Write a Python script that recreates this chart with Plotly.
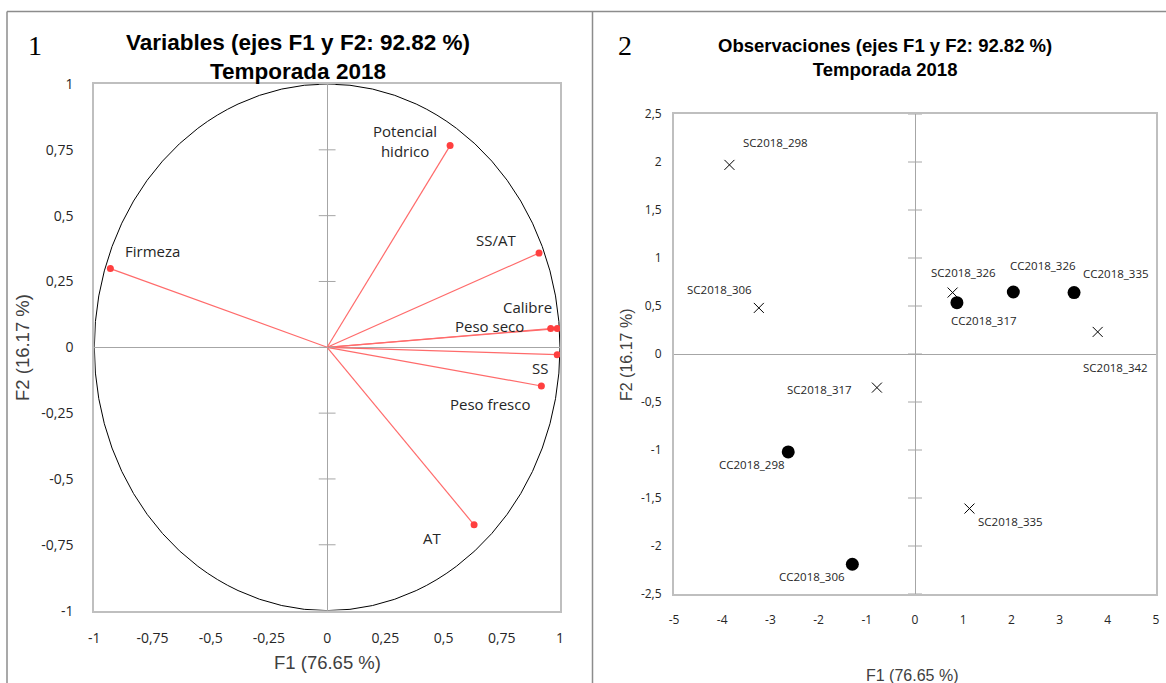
import plotly.graph_objects as go

# ---------------- data ----------------
var_names = ["Firmeza", "Potencial<br>hidrico", "SS/AT", "Calibre", "Peso seco", "SS", "Peso fresco", "AT"]
var_f1 = [-0.931, 0.528, 0.910, 0.988, 0.960, 0.988, 0.920, 0.631]
var_f2 = [0.299, 0.766, 0.358, 0.071, 0.071, -0.028, -0.147, -0.674]

obs_sc_names = ["SC2018_298", "SC2018_306", "SC2018_317", "SC2018_326", "SC2018_335", "SC2018_342"]
obs_sc_f1 = [-3.85, -3.24, -0.79, 0.78, 1.13, 3.79]
obs_sc_f2 = [1.97, 0.48, -0.35, 0.64, -1.61, 0.23]

obs_cc_names = ["CC2018_298", "CC2018_306", "CC2018_317", "CC2018_326", "CC2018_335"]
obs_cc_f1 = [-2.63, -1.30, 0.87, 2.04, 3.30]
obs_cc_f2 = [-1.02, -2.19, 0.535, 0.646, 0.64]

left_ticks = [-1, -0.75, -0.5, -0.25, 0, 0.25, 0.5, 0.75, 1]
left_ticktext = ["-1", "-0,75", "-0,5", "-0,25", "0", "0,25", "0,5", "0,75", "1"]
right_xticks = [-5, -4, -3, -2, -1, 0, 1, 2, 3, 4, 5]
right_xticktext = ["-5", "-4", "-3", "-2", "-1", "0", "1", "2", "3", "4", "5"]
right_yticks = [-2.5, -2, -1.5, -1, -0.5, 0, 0.5, 1, 1.5, 2, 2.5]
right_yticktext = ["-2,5", "-2", "-1,5", "-1", "-0,5", "0", "0,5", "1", "1,5", "2", "2,5"]

# label offsets in pixels (style, not data)
var_label_shift = [(42, 18), (-45, 5), (-43, 13), (-30, 22), (-61, 3), (-17, -13), (-51, -18), (-42, -13)]
sc_label_shift = [(46, 22), (-39, 18), (-57, -2), (11, 20), (41, -13), (18, -36)]
cc_label_shift = [(-36, -13), (-40, -12), (27, -18), (30, 26), (42, 19)]

W, H = 1166, 683
SANS = "Liberation Sans, Arial, sans-serif"
CAL = "Open Sans, Lato, sans-serif"

fig = go.Figure()

# ---------------- left: correlation circle ----------------
for name, fx, fy in zip(var_names, var_f1, var_f2):
    fig.add_trace(go.Scatter(x=[0, fx], y=[0, fy], mode="lines",
                             line=dict(color="#FF6B6B", width=1.2),
                             xaxis="x", yaxis="y", showlegend=False, hoverinfo="skip"))
fig.add_trace(go.Scatter(x=var_f1, y=var_f2, mode="markers",
                         marker=dict(color="#FF3F3F", size=7),
                         xaxis="x", yaxis="y", showlegend=False))
# tick marks on the vertical zero line
fig.add_trace(go.Scatter(x=[0] * len(left_ticks), y=left_ticks, mode="markers",
                         marker=dict(symbol="line-ew", size=12, line=dict(color="#A6A6A6", width=1)),
                         xaxis="x", yaxis="y", showlegend=False, hoverinfo="skip"))

# ---------------- right: observations ----------------
fig.add_trace(go.Scatter(x=[0] * len(right_yticks), y=right_yticks, mode="markers",
                         marker=dict(symbol="line-ew", size=10, line=dict(color="#A6A6A6", width=1)),
                         xaxis="x2", yaxis="y2", showlegend=False, hoverinfo="skip"))
fig.add_trace(go.Scatter(x=obs_sc_f1, y=obs_sc_f2, mode="markers",
                         marker=dict(symbol="x-thin", size=10, line=dict(color="#000000", width=1)),
                         xaxis="x2", yaxis="y2", showlegend=False))
fig.add_trace(go.Scatter(x=obs_cc_f1, y=obs_cc_f2, mode="markers",
                         marker=dict(symbol="circle", size=13, color="#000000"),
                         xaxis="x2", yaxis="y2", showlegend=False))

annotations = []
for name, fx, fy, (dx, dy) in zip(var_names, var_f1, var_f2, var_label_shift):
    annotations.append(dict(x=fx, y=fy, xref="x", yref="y", text=name, showarrow=False,
                            xanchor="center", yanchor="middle",
                            xshift=dx, yshift=dy, font=dict(family=CAL, size=15, color="#262626")))
for name, fx, fy, (dx, dy) in zip(obs_sc_names, obs_sc_f1, obs_sc_f2, sc_label_shift):
    annotations.append(dict(x=fx, y=fy, xref="x2", yref="y2", text=name, showarrow=False,
                            xanchor="center", yanchor="middle",
                            xshift=dx, yshift=dy, font=dict(family=CAL, size=11.5, color="#262626")))
for name, fx, fy, (dx, dy) in zip(obs_cc_names, obs_cc_f1, obs_cc_f2, cc_label_shift):
    annotations.append(dict(x=fx, y=fy, xref="x2", yref="y2", text=name, showarrow=False,
                            xanchor="center", yanchor="middle",
                            xshift=dx, yshift=dy, font=dict(family=CAL, size=11.5, color="#262626")))

def px(x):
    return x / W

def py(y):
    return 1 - y / H

def ptext(x, y, text, font, angle=0):
    return dict(x=px(x), y=py(y), xref="paper", yref="paper", text=text, showarrow=False,
                xanchor="center", yanchor="middle", textangle=angle, font=font)

annotations += [
    ptext(35, 45, "1", dict(family="Liberation Serif, Times New Roman, serif", size=28, color="#000")),
    ptext(625, 45, "2", dict(family="Liberation Serif, Times New Roman, serif", size=28, color="#000")),
    ptext(298, 57, "<b>Variables (ejes F1 y F2: 92.82 %)</b><br><b>Temporada 2018</b>",
          dict(family=SANS, size=22.5, color="#000")),
    ptext(885, 57, "<b>Observaciones (ejes F1 y F2: 92.82 %)</b><br><b>Temporada 2018</b>",
          dict(family=SANS, size=18.5, color="#000")),
    ptext(327, 662, "F1 (76.65 %)", dict(family=SANS, size=18.5, color="#404040")),
    ptext(22, 348, "F2 (16.17 %)", dict(family=SANS, size=18.5, color="#404040"), -90),
    ptext(912, 675, "F1 (76.65 %)", dict(family=SANS, size=16, color="#404040")),
    ptext(626, 355, "F2 (16.17 %)", dict(family=SANS, size=16, color="#404040"), -90),
]

shapes = [
    dict(type="circle", xref="x", yref="y", x0=-1, y0=-1, x1=1, y1=1,
         line=dict(color="#000000", width=1), layer="below"),
    # outer frame lines
    dict(type="line", xref="paper", yref="paper", x0=px(7), x1=1, y0=py(11.5), y1=py(11.5),
         line=dict(color="#8C8C8C", width=1.5)),
    dict(type="line", xref="paper", yref="paper", x0=px(7), x1=px(7), y0=py(11.5), y1=0,
         line=dict(color="#8C8C8C", width=1.5)),
    dict(type="line", xref="paper", yref="paper", x0=px(592.5), x1=px(592.5), y0=py(11.5), y1=0,
         line=dict(color="#8C8C8C", width=1.5)),
]

axis_common = dict(showgrid=False, zeroline=True, zerolinecolor="#A6A6A6", zerolinewidth=1,
                   showline=True, mirror=True, linecolor="#BFBFBF", linewidth=2, ticks="",
                   fixedrange=True, automargin=False)

fig.update_layout(
    width=W, height=H, margin=dict(l=0, r=0, t=0, b=0, pad=0), autosize=False,
    paper_bgcolor="white", plot_bgcolor="white", showlegend=False,
    xaxis=dict(domain=[px(94.3), px(560)], range=[-1, 1], tickvals=left_ticks, ticktext=left_ticktext,
               tickfont=dict(family=CAL, size=14, color="#262626"), ticklabelstandoff=14,
               anchor="y", **axis_common),
    yaxis=dict(domain=[py(610.6), py(84)], range=[-1, 1], tickvals=left_ticks, ticktext=left_ticktext,
               tickfont=dict(family=CAL, size=14, color="#262626"), ticklabelstandoff=16,
               anchor="x", **axis_common),
    xaxis2=dict(domain=[px(674), px(1156)], range=[-5, 5], tickvals=right_xticks, ticktext=right_xticktext,
                tickfont=dict(family=CAL, size=12, color="#262626"), ticklabelstandoff=14,
                anchor="y2", **axis_common),
    yaxis2=dict(domain=[py(594), py(114)], range=[-2.5, 2.5], tickvals=right_yticks, ticktext=right_yticktext,
                tickfont=dict(family=CAL, size=12, color="#262626"), ticklabelstandoff=8,
                anchor="x2", **axis_common),
    annotations=annotations, shapes=shapes,
)

fig.write_html("out.html", config={"displayModeBar": False},
               post_script="document.body.style.margin='0';document.body.style.padding='0';"
                           "document.documentElement.style.overflow='hidden';")
